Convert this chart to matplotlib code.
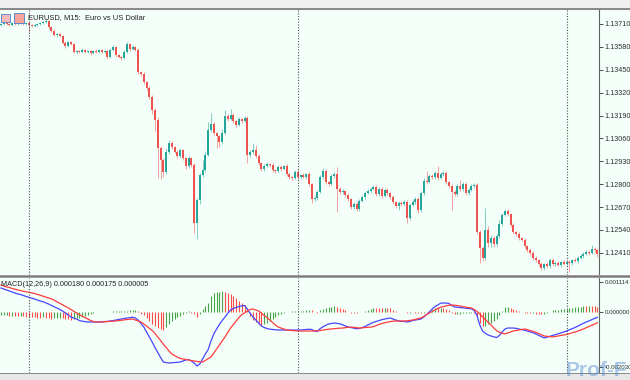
import numpy as np
import matplotlib
matplotlib.use("Agg")
import matplotlib.pyplot as plt
from matplotlib.patches import Rectangle

plt.rcParams['font.family'] = ['Liberation Sans', 'DejaVu Sans']

# EURUSD M15 closes, in points (1 point = 0.00001)
first_open = 113704
closes = [
    113710, 113716, 113710, 113704, 113716, 113710, 113721, 113716, 113710, 113716,
    113704, 113699, 113704, 113710, 113716, 113721, 113727, 113693, 113670, 113648,
    113653, 113642, 113602, 113585, 113608, 113596, 113551, 113557, 113551, 113562,
    113551, 113557, 113545, 113557, 113551, 113562, 113551, 113557, 113523, 113562,
    113579, 113534, 113523, 113517, 113551, 113596, 113568, 113579, 113562, 113437,
    113426, 113381, 113346, 113295, 113221, 113165, 113006, 112937, 112869, 112983,
    113034, 113011, 112983, 112960, 112994, 112949, 112903, 112949, 112909, 112580,
    112710, 112852, 112881, 112966, 113108, 113142, 113091, 113074, 113040, 113091,
    113187, 113170, 113193, 113159, 113136, 113170, 113159, 113176, 112966, 112983,
    112994, 112960, 112920, 112886, 112903, 112915, 112909, 112881, 112875, 112898,
    112886, 112903, 112858, 112841, 112835, 112869, 112841, 112852, 112841, 112858,
    112801, 112716, 112722, 112756, 112841, 112875, 112813, 112801, 112847, 112858,
    112773, 112756, 112761, 112739, 112716, 112671, 112688, 112659, 112705, 112727,
    112750, 112761, 112773, 112784, 112744, 112773, 112733, 112767, 112750, 112727,
    112699, 112676, 112693, 112688, 112699, 112608, 112682, 112699, 112716, 112653,
    112750, 112818, 112813, 112847, 112841, 112864, 112835, 112858, 112864, 112813,
    112790, 112756, 112744, 112790, 112773, 112801, 112750, 112767, 112790, 112795,
    112529, 112438, 112381, 112540, 112466, 112494, 112460, 112506, 112574, 112625,
    112648, 112631, 112568, 112529, 112517, 112494, 112483, 112449, 112426, 112410,
    112381, 112370, 112347, 112324, 112347, 112335, 112370, 112347, 112353, 112341,
    112358, 112347, 112358, 112353, 112370, 112364, 112381, 112392, 112404, 112415,
    112410, 112432, 112426, 112404,
]
# upper / lower shadow lengths, points
wick_up = [
    6, 8, 6, 8, 6, 8, 6, 8, 6, 8,
    6, 8, 6, 8, 6, 8, 10, 6, 8, 10,
    8, 6, 8, 10, 8, 6, 8, 6, 8, 10,
    6, 8, 8, 6, 10, 6, 8, 6, 10, 12,
    10, 8, 6, 8, 10, 14, 8, 10, 8, 10,
    8, 12, 8, 10, 10, 12, 14, 10, 12, 20,
    15, 10, 8, 10, 12, 8, 8, 10, 8, 10,
    12, 14, 57, 20, 45, 60, 10, 8, 8, 20,
    34, 10, 34, 10, 8, 12, 8, 14, 10, 12,
    40, 30, 10, 8, 12, 10, 8, 10, 8, 12,
    12, 8, 10, 8, 8, 10, 14, 8, 10, 8,
    10, 8, 10, 12, 14, 18, 10, 8, 12, 14,
    40, 10, 12, 8, 10, 8, 12, 10, 12, 10,
    12, 10, 10, 12, 10, 12, 10, 12, 10, 8,
    10, 8, 12, 10, 12, 10, 14, 10, 12, 10,
    14, 20, 55, 12, 10, 12, 40, 12, 10, 10,
    8, 10, 10, 12, 35, 12, 10, 10, 12, 12,
    14, 10, 12, 125, 20, 15, 12, 14, 20, 12,
    10, 10, 8, 10, 8, 10, 8, 10, 8, 10,
    8, 10, 8, 10, 8, 10, 12, 10, 8, 10,
    8, 10, 8, 10, 8, 10, 12, 10, 10, 12,
    10, 20, 12, 10,
]
wick_dn = [
    8, 6, 8, 6, 8, 6, 8, 6, 8, 6,
    40, 8, 6, 8, 6, 8, 6, 10, 8, 6,
    10, 8, 6, 10, 8, 6, 8, 10, 6, 8,
    8, 6, 10, 8, 6, 8, 6, 8, 10, 6,
    8, 10, 8, 12, 8, 6, 10, 8, 6, 10,
    12, 10, 12, 10, 20, 60, 170, 110, 30, 12,
    10, 12, 8, 10, 12, 10, 14, 10, 12, 57,
    90, 20, 12, 10, 8, 10, 12, 68, 30, 10,
    8, 10, 8, 12, 10, 8, 10, 8, 45, 12,
    10, 12, 10, 12, 10, 8, 10, 12, 10, 8,
    10, 8, 10, 12, 10, 8, 12, 10, 8, 10,
    12, 20, 12, 10, 8, 10, 12, 10, 8, 10,
    130, 12, 10, 12, 10, 14, 12, 14, 10, 8,
    10, 8, 10, 8, 12, 10, 12, 8, 10, 12,
    12, 10, 20, 10, 12, 30, 12, 8, 10, 14,
    10, 12, 10, 8, 10, 12, 10, 8, 10, 12,
    14, 100, 12, 10, 12, 10, 14, 10, 8, 10,
    12, 85, 20, 12, 25, 20, 14, 10, 12, 10,
    8, 10, 12, 10, 12, 10, 8, 12, 10, 12,
    10, 12, 10, 14, 10, 12, 10, 12, 10, 8,
    10, 8, 12, 50, 10, 8, 10, 8, 10, 8,
    10, 8, 10, 20,
]
# MACD(12,26,9) main and signal, in millionths
macd_main = [
    890, 853, 816, 779, 742, 705, 668, 649, 612, 575,
    545, 512, 482, 445, 408, 382, 341, 297, 245, 193,
    148, 96, 37, -37, -111, -186, -223, -260, -315, -341,
    -356, -371, -371, -371, -371, -371, -371, -356, -349, -334,
    -319, -297, -278, -260, -241, -223, -211, -193, -223, -297,
    -427, -557, -742, -928, -1113, -1317, -1503, -1688, -1855, -1877,
    -1892, -1885, -1874, -1866, -1855, -1818, -1781, -1762, -1818, -1892,
    -2003, -1929, -1744, -1558, -1391, -1076, -816, -631, -464, -315,
    -186, -48, 74, 130, 171, 200, 230, 241, 111, -56,
    -186, -297, -408, -519, -575, -612, -638, -649, -660, -668,
    -668, -668, -668, -668, -668, -668, -668, -668, -660, -649,
    -638, -649, -705, -723, -616, -549, -493, -445, -427, -408,
    -423, -438, -471, -519, -557, -579, -601, -620, -612, -579,
    -538, -482, -434, -382, -349, -315, -286, -260, -241, -223,
    -260, -297, -334, -341, -352, -371, -352, -315, -297, -278,
    -260, -186, -93, 0, 111, 204, 260, 326, 334, 334,
    315, 241, 186, 174, 160, 148, 141, 130, 119, 56,
    -130, -482, -705, -790, -853, -890, -920, -950, -872, -742,
    -631, -594, -594, -594, -608, -631, -653, -675, -705, -738,
    -768, -812, -864, -916, -961, -935, -902, -868, -838, -809,
    -775, -742, -705, -660, -620, -575, -523, -471, -419, -375,
    -330, -282, -237, -197,
]
macd_signal = [
    1002, 965, 928, 909, 872, 842, 816, 794, 772, 749,
    727, 705, 686, 653, 620, 586, 557, 523, 490, 434,
    378, 323, 267, 211, 156, 93, 30, -37, -100, -152,
    -204, -260, -315, -352, -371, -371, -367, -360, -356, -349,
    -341, -334, -319, -304, -293, -278, -267, -260, -297, -334,
    -371, -445, -527, -612, -686, -798, -928, -1057, -1195, -1317,
    -1447, -1558, -1618, -1670, -1725, -1744, -1762, -1781, -1799, -1818,
    -1833, -1848, -1855, -1799, -1725, -1670, -1521, -1373, -1224, -1076,
    -928, -761, -594, -464, -334, -204, -93, -37, 37, 93,
    111, 74, 37, -37, -130, -204, -297, -390, -482, -557,
    -594, -631, -668, -679, -690, -697, -705, -705, -705, -705,
    -705, -705, -705, -697, -686, -668, -653, -638, -631, -620,
    -608, -601, -594, -579, -568, -557, -568, -579, -594, -586,
    -579, -568, -560, -545, -501, -464, -427, -401, -378, -356,
    -341, -334, -334, -334, -334, -326, -315, -297, -278, -245,
    -223, -167, -93, -37, 19, 74, 130, 178, 204, 230,
    252, 260, 252, 237, 223, 197, 178, 163, 148, 93,
    19, -74, -186, -286, -390, -482, -594, -690, -753, -790,
    -809, -779, -742, -705, -686, -668, -646, -631, -653, -683,
    -716, -749, -798, -842, -890, -902, -913, -924, -909, -890,
    -868, -853, -831, -801, -772, -742, -712, -668, -631, -586,
    -542, -493, -445, -401,
]
separator_bars = [10, 106, 202]
price_ticks = [1.13710, 1.13580, 1.13450, 1.13320, 1.13190, 1.13060,
               1.12930, 1.12800, 1.12670, 1.12540, 1.12410]
macd_ticks = [0.001114, 0.0, -0.002030]
macd_tick_labels = ["0.001114", "0.000000", "-0.002030"]
title = "EURUSD, M15:  Euro vs US Dollar"
macd_title = "MACD(12,26,9) 0.000180 0.000175 0.000005"

BG = "#F5FFFA"
BULL = "#26A69A"
BEAR = "#EF5350"
W, H = 630, 380


def main():
    c = np.array(closes) / 1e5
    o = np.concatenate([[first_open / 1e5], c[:-1]])
    hi = np.maximum(o, c) + np.array(wick_up) / 1e5
    lo = np.minimum(o, c) - np.array(wick_dn) / 1e5
    idx = np.arange(len(c))
    up = c >= o
    col = np.where(up, BULL, BEAR)

    fig = plt.figure(figsize=(W / 100, H / 100), dpi=100, facecolor=BG)

    def px_axes(x0, y0, x1, y1):
        return fig.add_axes([x0 / W, 1 - y1 / H, (x1 - x0) / W, (y1 - y0) / H])

    ax = px_axes(0, 10, 599, 275)
    axm = px_axes(0, 278, 599, 373)

    # price panel
    ax.vlines(idx, lo, hi, colors=col, linewidth=0.7, alpha=0.55)
    body = np.maximum(np.abs(c - o), 0.00004)
    ax.bar(idx, body, bottom=np.minimum(o, c), width=0.75, color=col, linewidth=0)
    ax.set_ylim(1.122843, 1.137895)
    ax.set_yticks(price_ticks)
    ax.set_yticklabels(["%.5f" % p for p in price_ticks])

    # MACD panel
    m = np.array(macd_main) / 1e6
    s = np.array(macd_signal) / 1e6
    hist = m - s
    rising = np.concatenate([[True], hist[1:] >= hist[:-1]])
    axm.vlines(idx, 0, hist, colors=np.where(rising, "#46A546", "#FF4A4A"),
               linewidth=0.8)
    axm.plot(idx, m, color="#4646FF", linewidth=0.9)
    axm.plot(idx, s, color="#FF3C3C", linewidth=0.9)
    axm.set_ylim(-0.002263, 0.0012614)
    axm.set_yticks(macd_ticks)
    axm.set_yticklabels(macd_tick_labels)

    for a in (ax, axm):
        a.set_facecolor(BG)
        a.set_xlim(-0.35, -0.35 + 599 / 2.8)
        a.set_xticks([])
        for b in separator_bars:
            a.axvline(b, color="#505050", linewidth=0.8, linestyle=(0, (1, 1.5)))
        for sp in ("left", "top", "bottom"):
            a.spines[sp].set_visible(False)
        a.spines["right"].set_color("#606060")
        a.spines["right"].set_linewidth(0.8)
        a.yaxis.tick_right()
        a.tick_params(axis="y", direction="out", length=3, width=0.6, pad=1,
                      labelsize=5.2, colors="#303030")
    axm.tick_params(axis="y", labelsize=4.4)

    # frame strips
    def strip(y0, y1, color):
        fig.add_artist(Rectangle((0, 1 - y1 / H), 1, (y1 - y0) / H,
                                 transform=fig.transFigure, color=color, lw=0))

    strip(0, 8, "#F0F0F0")
    strip(8, 10, "#8A8A8A")
    strip(275, 278, "#A0A0A0")
    strip(276, 277, "#777777")
    strip(373, 380, "#E8E8E8")
    strip(373, 374, "#8A8A8A")

    # header icons and texts
    fig.add_artist(Rectangle((1 / W, 1 - 22 / H), 9 / W, 8 / H, transform=fig.transFigure,
                             facecolor="#F4B9B9", edgecolor="#4A7FD0", lw=0.6))
    fig.add_artist(Rectangle((14 / W, 1 - 23 / H), 10 / W, 10 / H, transform=fig.transFigure,
                             facecolor="#F6A39B", edgecolor="#4A7FD0", lw=0.6))
    fig.text(28 / W, 1 - 17.5 / H, title, fontsize=5.4, color="#202020", va="center")
    fig.text(1 / W, 1 - 284.5 / H, macd_title, fontsize=5.2, color="#202020", va="center")

    # watermark
    fig.text(566 / W, 1 - 380 / H, "Prof-F", fontsize=15, fontweight="bold",
             color="#5E8FCF", alpha=0.5, va="bottom")

    fig.savefig("out.png", dpi=100, facecolor=BG)


if __name__ == "__main__":
    main()
